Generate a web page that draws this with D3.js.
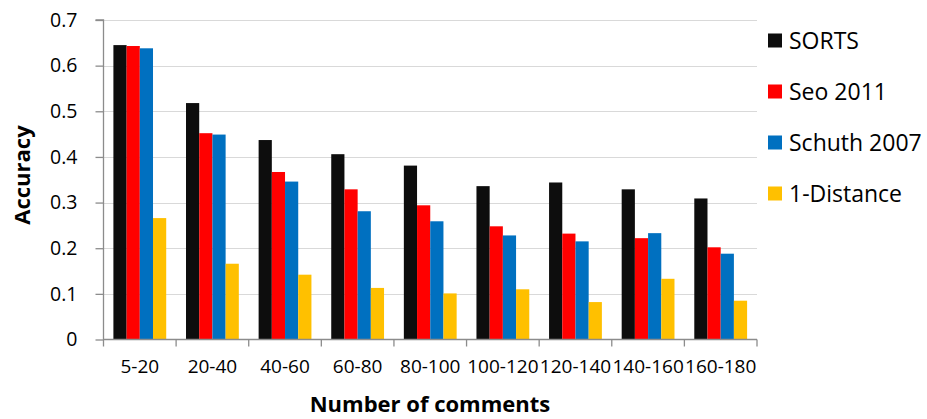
<!DOCTYPE html>
<html>
<head>
<meta charset="utf-8">
<script src="https://cdn.jsdelivr.net/npm/d3@7"></script>
<style>
  html, body { margin: 0; padding: 0; background: #fff; }
  svg { display: block; font-family: "Open Sans", "Noto Sans", sans-serif; }
</style>
</head>
<body>
<svg id="chart" width="927" height="419"></svg>
<script>
// Comment-count buckets along the x axis
const categories = ["5-20", "20-40", "40-60", "60-80", "80-100", "100-120", "120-140", "140-160", "160-180"];

// Accuracy per method in each bucket
const sorts      = [0.645, 0.518, 0.437, 0.406, 0.381, 0.336, 0.344, 0.329, 0.309];
const seo2011    = [0.643, 0.452, 0.367, 0.329, 0.294, 0.248, 0.232, 0.222, 0.202];
const schuth2007 = [0.638, 0.449, 0.346, 0.281, 0.259, 0.228, 0.215, 0.233, 0.188];
const distance1  = [0.266, 0.166, 0.142, 0.113, 0.101, 0.110, 0.082, 0.133, 0.085];

const seriesNames = ["SORTS", "Seo 2011", "Schuth 2007", "1-Distance"];
const seriesValues = [sorts, seo2011, schuth2007, distance1];
const seriesColors = ["#0d0d0d", "#ff0000", "#0070c0", "#ffc000"];

const yTicks = [0, 0.1, 0.2, 0.3, 0.4, 0.5, 0.6, 0.7];

const svg = d3.select("#chart");
const plot = { left: 103.5, right: 757, top: 20, bottom: 339.5 };

const x0 = d3.scaleBand().domain(categories).range([plot.left, plot.right]).padding(0);
const x1 = d3.scaleBand().domain(seriesNames).range([0, x0.bandwidth()])
  .paddingInner(0).paddingOuter(0.75);
const y = d3.scaleLinear().domain([0, 0.7]).range([plot.bottom, plot.top]);

// Horizontal gridlines
svg.append("g")
  .selectAll("line")
  .data(yTicks.filter(d => d > 0))
  .join("line")
  .attr("x1", plot.left)
  .attr("x2", plot.right)
  .attr("y1", d => Math.round(y(d)) + 0.5)
  .attr("y2", d => Math.round(y(d)) + 0.5)
  .attr("stroke", "#d9d9d9")
  .attr("stroke-width", 1.2);

// Bars, one group per bucket
const rows = categories.map((c, i) => ({
  category: c,
  values: seriesNames.map((s, j) => ({ series: s, value: seriesValues[j][i], color: seriesColors[j] }))
}));

svg.append("g")
  .selectAll("g")
  .data(rows)
  .join("g")
  .attr("transform", d => `translate(${x0(d.category)},0)`)
  .selectAll("rect")
  .data(d => d.values)
  .join("rect")
  .attr("x", d => x1(d.series))
  .attr("width", x1.bandwidth())
  .attr("y", d => y(d.value))
  .attr("height", d => y(0) - y(d.value))
  .attr("fill", d => d.color);

// Y axis
const yAxis = d3.axisLeft(y).tickValues(yTicks).tickSize(8).tickPadding(18)
  .tickFormat(d => d === 0 ? "0" : d3.format(".1f")(d));
const yg = svg.append("g").attr("transform", `translate(${plot.left},0)`).call(yAxis);
yg.select(".domain").attr("stroke", "#8c8c8c").attr("stroke-width", 1.3)
  .attr("d", `M-8,${plot.top}H0V${plot.bottom + 7}`);
yg.selectAll(".tick line").attr("stroke", "#8c8c8c").attr("stroke-width", 1.3);
yg.selectAll(".tick text").attr("font-size", 19.5).attr("fill", "#000")
  .attr("font-family", "'Open Sans', sans-serif");

// X axis
const xAxis = d3.axisBottom(x0).tickSize(0).tickPadding(20);
const xg = svg.append("g").attr("transform", `translate(0,${plot.bottom})`).call(xAxis);
xg.select(".domain").attr("stroke", "#8c8c8c").attr("stroke-width", 1.3)
  .attr("d", `M${plot.left},0H${plot.right}`);
xg.selectAll(".tick text").attr("font-size", 19).attr("fill", "#000")
  .attr("font-family", "'Open Sans', sans-serif");
// Category separators
xg.append("g")
  .selectAll("line")
  .data(categories.map(c => x0(c) + x0.bandwidth()))
  .join("line")
  .attr("x1", d => d).attr("x2", d => d)
  .attr("y1", 0).attr("y2", 7)
  .attr("stroke", "#8c8c8c").attr("stroke-width", 1.3);

// Axis titles
svg.append("text")
  .attr("x", 430)
  .attr("y", 412)
  .attr("text-anchor", "middle")
  .attr("font-size", 22)
  .attr("font-weight", "bold")
  .text("Number of comments");

svg.append("text")
  .attr("transform", "translate(30,175) rotate(-90)")
  .attr("text-anchor", "middle")
  .attr("font-size", 22)
  .attr("font-weight", "bold")
  .text("Accuracy");

// Legend
const legend = svg.append("g")
  .selectAll("g")
  .data(seriesNames)
  .join("g")
  .attr("transform", (d, i) => `translate(768,${40.5 + i * 51})`);
legend.append("rect")
  .attr("x", 0).attr("y", -7)
  .attr("width", 14).attr("height", 14)
  .attr("fill", (d, i) => seriesColors[i]);
legend.append("text")
  .attr("x", 21)
  .attr("y", 8)
  .attr("font-size", 23)
  .attr("fill", "#000")
  .text(d => d);
</script>
</body>
</html>
